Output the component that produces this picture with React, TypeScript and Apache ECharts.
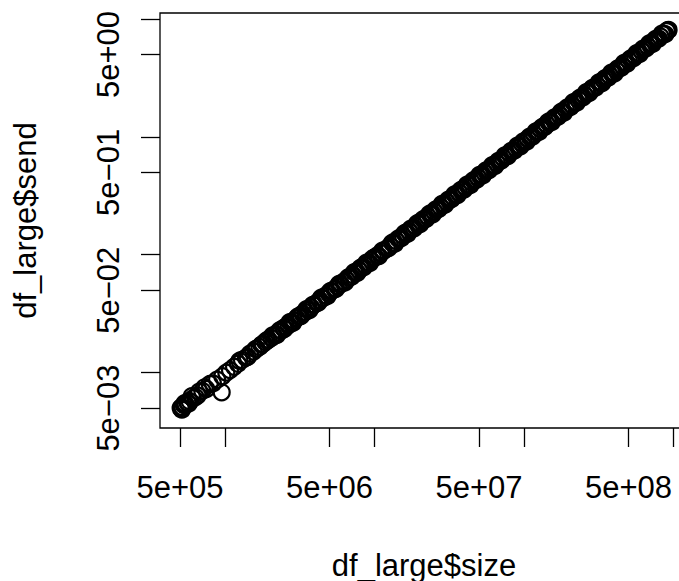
import React, { useEffect, useRef } from "react";
import * as echarts from "echarts";

const xTitle = "df_large$size";
const yTitle = "df_large$send";

const xTickValues = [5e5, 1e6, 5e6, 1e7, 5e7, 1e8, 5e8, 1e9];
const xLabelValues = [5e5, 5e6, 5e7, 5e8];
const yTickValues = [5e-3, 1e-2, 5e-2, 1e-1, 5e-1, 1, 5, 10];
const yLabelValues = [5e-3, 5e-2, 5e-1, 5];

// first pass of measurements
const sizes = [
  5.05e5, 5.12e5, 5.2e5, 5.31e5, 5.45e5, 5.6e5, 5.82e5, 6.1e5, 6.35e5, 6.72e5,
  7.05e5, 7.5e5, 7.9e5, 8.3e5, 8.85e5, 9.5e5, 9.6e5, 1.02e6, 1.08e6, 1.15e6,
  1.22e6, 1.3e6, 1.38e6, 1.47e6, 1.55e6, 1.63e6, 1.7e6, 1.79e6, 1.86e6, 1.95e6,
  2.04e6, 2.12e6, 2.19e6, 2.27e6, 2.38e6, 2.46e6, 2.55e6, 2.66e6, 2.78e6, 2.9e6,
  3.01e6, 3.15e6, 3.3e6, 3.44e6, 3.58e6, 3.77e6, 3.95e6, 4.12e6, 4.3e6, 4.52e6,
  4.71e6, 4.95e6, 5.18e6, 5.4e6, 5.66e6, 5.95e6, 6.22e6, 6.5e6, 6.84e6, 7.15e6,
  7.5e6, 7.86e6, 8.25e6, 8.63e6, 9.05e6, 9.52e6,
  1.01e7, 1.04e7, 1.1e7, 1.15e7, 1.21e7, 1.27e7, 1.34e7, 1.4e7, 1.48e7, 1.55e7,
  1.63e7, 1.7e7, 1.79e7, 1.88e7, 1.97e7, 2.06e7, 2.16e7, 2.27e7, 2.39e7, 2.51e7,
  2.63e7, 2.76e7, 2.9e7, 3.04e7, 3.2e7, 3.35e7, 3.51e7, 3.66e7, 3.87e7, 4.07e7,
  4.26e7, 4.47e7, 4.68e7, 4.92e7, 5.17e7, 5.44e7, 5.7e7, 5.99e7, 6.27e7, 6.57e7,
  6.91e7, 7.27e7, 7.61e7, 8.01e7, 8.39e7, 8.82e7, 9.25e7, 9.68e7,
  1.02e8, 1.06e8, 1.12e8, 1.17e8, 1.23e8, 1.29e8, 1.35e8, 1.42e8, 1.49e8, 1.57e8,
  1.64e8, 1.73e8, 1.81e8, 1.9e8, 2.0e8, 2.09e8, 2.2e8, 2.31e8, 2.42e8, 2.55e8,
  2.67e8, 2.81e8, 2.94e8, 3.09e8, 3.25e8, 3.41e8, 3.57e8, 3.75e8, 3.94e8, 4.14e8,
  4.34e8, 4.56e8, 4.78e8, 5.02e8, 5.28e8, 5.54e8, 5.81e8, 6.11e8, 6.41e8, 6.72e8,
  7.06e8, 7.42e8, 7.78e8, 8.17e8, 8.58e8, 9.02e8, 9.27e8,
];

const sendTimes = [
  5.0e-3, 5.1e-3, 5.05e-3, 5.3e-3, 5.35e-3, 5.6e-3, 5.7e-3, 6.05e-3, 6.2e-3, 6.9e-3,
  7.0e-3, 7.25e-3, 8.0e-3, 8.1e-3, 8.7e-3, 6.8e-3, 9.3e-3, 1.0e-2, 1.05e-2, 1.12e-2,
  1.19e-2, 1.28e-2, 1.34e-2, 1.45e-2, 1.51e-2, 1.6e-2, 1.65e-2, 1.75e-2, 1.82e-2, 1.9e-2,
  1.97e-2, 2.06e-2, 2.09e-2, 2.2e-2, 2.27e-2, 2.38e-2, 2.45e-2, 2.53e-2, 2.68e-2, 2.76e-2,
  2.9e-2, 3.0e-2, 3.17e-2, 3.26e-2, 3.43e-2, 3.58e-2, 3.78e-2, 3.9e-2, 4.11e-2, 4.28e-2,
  4.5e-2, 4.69e-2, 4.94e-2, 5.11e-2, 5.39e-2, 5.62e-2, 5.92e-2, 6.13e-2, 6.5e-2, 6.74e-2,
  7.1e-2, 7.4e-2, 7.81e-2, 8.12e-2, 8.55e-2, 8.93e-2,
  0.0949, 0.0982, 0.1033, 0.1079, 0.1128, 0.1189, 0.1262, 0.1309, 0.1377, 0.1446,
  0.1528, 0.1584, 0.166, 0.1748, 0.1841, 0.1914, 0.1998, 0.2107, 0.2225, 0.2324,
  0.2427, 0.2553, 0.2688, 0.2806, 0.2941, 0.3089, 0.3245, 0.3367, 0.3549, 0.374,
  0.3925, 0.4099, 0.428, 0.4507, 0.4745, 0.4972, 0.5198, 0.5469, 0.5733, 0.5985,
  0.628, 0.6616, 0.6935, 0.7273, 0.7601, 0.8, 0.8399, 0.877,
  0.922, 0.961, 1.01, 1.049, 1.108, 1.168, 1.215, 1.27, 1.338, 1.415,
  1.471, 1.541, 1.62, 1.711, 1.788, 1.858, 1.962, 2.072, 2.156, 2.259,
  2.376, 2.511, 2.611, 2.73, 2.883, 3.038, 3.159, 3.302, 3.483, 3.671,
  3.828, 4.005, 4.211, 4.436, 4.641, 4.851, 5.101, 5.38, 5.622, 5.865,
  6.178, 6.51, 6.8, 7.11, 7.482, 7.89, 8.074,
];

// repeated measurements
const sizesRepeat = [
  5.15e5, 5.38e5, 5.7e5, 6.0e5, 6.55e5, 7.3e5, 1.25e6, 1.42e6, 1.6e6, 1.75e6, 1.9e6,
  2.08e6, 2.23e6, 2.33e6, 2.5e6, 2.71e6, 2.84e6, 3.08e6, 3.22e6, 3.51e6, 3.67e6,
  3.86e6, 4.21e6, 4.41e6, 4.83e6, 5.06e6, 5.53e6, 5.8e6, 6.36e6, 6.67e6, 6.99e6,
  7.32e6, 7.68e6, 8.05e6, 8.44e6, 8.84e6, 9.28e6, 9.76e6,
  1.07e7, 1.13e7, 1.24e7, 1.31e7, 1.37e7, 1.44e7, 1.51e7, 1.59e7, 1.66e7, 1.75e7,
  1.84e7, 1.93e7, 2.02e7, 2.11e7, 2.22e7, 2.33e7, 2.45e7, 2.57e7, 2.7e7, 2.83e7,
  2.97e7, 3.12e7, 3.27e7, 3.43e7, 3.59e7, 3.77e7, 3.97e7, 4.16e7, 4.37e7, 4.58e7,
  4.8e7, 5.04e7, 5.3e7, 5.57e7, 5.84e7, 6.13e7, 6.42e7, 6.74e7, 7.09e7, 7.44e7,
  7.8e7, 8.2e7, 8.6e7, 9.03e7, 9.47e7, 9.9e7,
  1.04e8, 1.09e8, 1.14e8, 1.2e8, 1.26e8, 1.32e8, 1.38e8, 1.45e8, 1.53e8, 1.6e8,
  1.68e8, 1.77e8, 1.85e8, 1.95e8, 2.04e8, 2.14e8, 2.25e8, 2.36e8, 2.48e8, 2.61e8,
  2.74e8, 2.87e8, 3.01e8, 3.17e8, 3.33e8, 3.49e8, 3.66e8, 3.84e8, 4.04e8, 4.24e8,
  4.45e8, 4.67e8, 4.9e8, 5.15e8, 5.41e8, 5.67e8, 5.96e8, 6.26e8, 6.56e8, 6.89e8,
  7.24e8, 7.6e8, 7.97e8, 8.37e8, 8.8e8, 9.15e8,
];

const sendRepeat = [
  4.85e-3, 5.5e-3, 5.45e-3, 6.3e-3, 6.4e-3, 7.5e-3, 1.26e-2, 1.36e-2, 1.58e-2, 1.72e-2, 1.88e-2,
  2.07e-2, 2.09e-2, 2.29e-2, 2.35e-2, 2.68e-2, 2.64e-2, 3.0e-2, 3.02e-2, 3.45e-2, 3.39e-2,
  3.75e-2, 3.93e-2, 4.32e-2, 4.45e-2, 4.9e-2, 5.14e-2, 5.66e-2, 5.84e-2, 6.43e-2, 6.48e-2,
  7.12e-2, 7.03e-2, 7.75e-2, 7.8e-2, 8.58e-2, 8.48e-2, 9.37e-2,
  0.0975, 0.1081, 0.1137, 0.1263, 0.1242, 0.1373, 0.1382, 0.1528, 0.1501, 0.1663,
  0.1677, 0.1849, 0.1821, 0.1999, 0.2019, 0.2225, 0.2202, 0.2428, 0.245, 0.2699,
  0.2663, 0.2938, 0.296, 0.3255, 0.3206, 0.3539, 0.3577, 0.3935, 0.389, 0.4284,
  0.4312, 0.4753, 0.4705, 0.5192, 0.5233, 0.5758, 0.5675, 0.6263, 0.6321, 0.6963,
  0.6877, 0.7599, 0.7644, 0.8436, 0.8323, 0.9149,
  0.911, 1.004, 1.007, 1.114, 1.101, 1.212, 1.217, 1.343, 1.333, 1.465,
  1.476, 1.633, 1.606, 1.779, 1.787, 1.968, 1.948, 2.146, 2.166, 2.394,
  2.367, 2.601, 2.617, 2.894, 2.862, 3.152, 3.175, 3.502, 3.463, 3.815,
  3.842, 4.238, 4.186, 4.621, 4.66, 5.129, 5.073, 5.6, 5.635, 6.211,
  6.14, 6.773, 6.821, 7.519, 7.44, 8.05,
];

const FONT = "'Liberation Sans', Arial, Helvetica, sans-serif";
const log10 = (v: number) => Math.log10(v);

function sciLabel(v: number): string {
  let e = Math.floor(v + 1e-9);
  let m = Math.round(Math.pow(10, v - e));
  if (m >= 10) {
    m = 1;
    e += 1;
  }
  const sign = e < 0 ? "\u2212" : "+";
  return `${m}e${sign}${String(Math.abs(e)).padStart(2, "0")}`;
}

export default function App() {
  const ref = useRef<HTMLDivElement>(null);

  useEffect(() => {
    if (!ref.current) return;
    const chart = echarts.init(ref.current, null, { renderer: "svg" });
    const points = sizes.map((s, i) => [log10(s), log10(sendTimes[i])]);
    const repeatPoints = sizesRepeat.map((s, i) => [log10(s), log10(sendRepeat[i])]);
    const tickLine = { color: "#000", width: 1.3 };
    const labelStyle = {
      fontSize: 31,
      color: "#000",
      fontFamily: FONT,
    };
    const markerStyle = {
      color: "rgba(0,0,0,0)",
      borderColor: "#000",
      borderWidth: 2.2,
      opacity: 1,
    };
    chart.setOption({
      animation: false,
      backgroundColor: "#fff",
      grid: {
        left: 160,
        top: 13,
        width: 528,
        height: 415,
        show: true,
        borderColor: "#000",
        borderWidth: 1.3,
        backgroundColor: "transparent",
        containLabel: false,
        outerBoundsMode: "none",
      },
      xAxis: {
        type: "value",
        min: 5.5652,
        max: 9.097,
        axisLine: { show: false, onZero: false },
        splitLine: { show: false },
        axisTick: {
          show: true,
          inside: false,
          length: 19,
          lineStyle: tickLine,
          customValues: xTickValues.map(log10),
        },
        axisLabel: {
          ...labelStyle,
          customValues: xLabelValues.map(log10),
          formatter: (v: number) => sciLabel(v),
          margin: 59,
          align: "center",
          verticalAlign: "middle",
          hideOverlap: false,
        },
        name: xTitle,
        nameLocation: "middle",
        nameGap: 137,
        nameTextStyle: { ...labelStyle, align: "center", verticalAlign: "middle" },
      },
      yAxis: {
        type: "value",
        min: -2.47,
        max: 1.051,
        axisLine: { show: false, onZero: false },
        splitLine: { show: false },
        axisTick: {
          show: true,
          inside: false,
          length: 19,
          lineStyle: tickLine,
          customValues: yTickValues.map(log10),
        },
        axisLabel: {
          ...labelStyle,
          customValues: yLabelValues.map(log10),
          formatter: (v: number) => sciLabel(v),
          rotate: 90,
          margin: 52,
          align: "center",
          verticalAlign: "middle",
          hideOverlap: false,
        },
        name: yTitle,
        nameLocation: "middle",
        nameRotate: 90,
        nameGap: 135,
        nameTextStyle: { ...labelStyle, align: "center", verticalAlign: "middle" },
      },
      series: [
        {
          type: "scatter",
          data: points,
          symbol: "circle",
          symbolSize: 16,
          silent: true,
          clip: false,
          itemStyle: markerStyle,
          emphasis: { disabled: true },
        },
        {
          type: "scatter",
          data: repeatPoints,
          symbol: "circle",
          symbolSize: 16,
          silent: true,
          clip: false,
          itemStyle: markerStyle,
          emphasis: { disabled: true },
        },
      ],
    });
    return () => chart.dispose();
  }, []);

  return (
    <div
      ref={ref}
      style={{ position: "absolute", left: 0, top: 0, width: 679, height: 581, background: "#fff" }}
    />
  );
}
